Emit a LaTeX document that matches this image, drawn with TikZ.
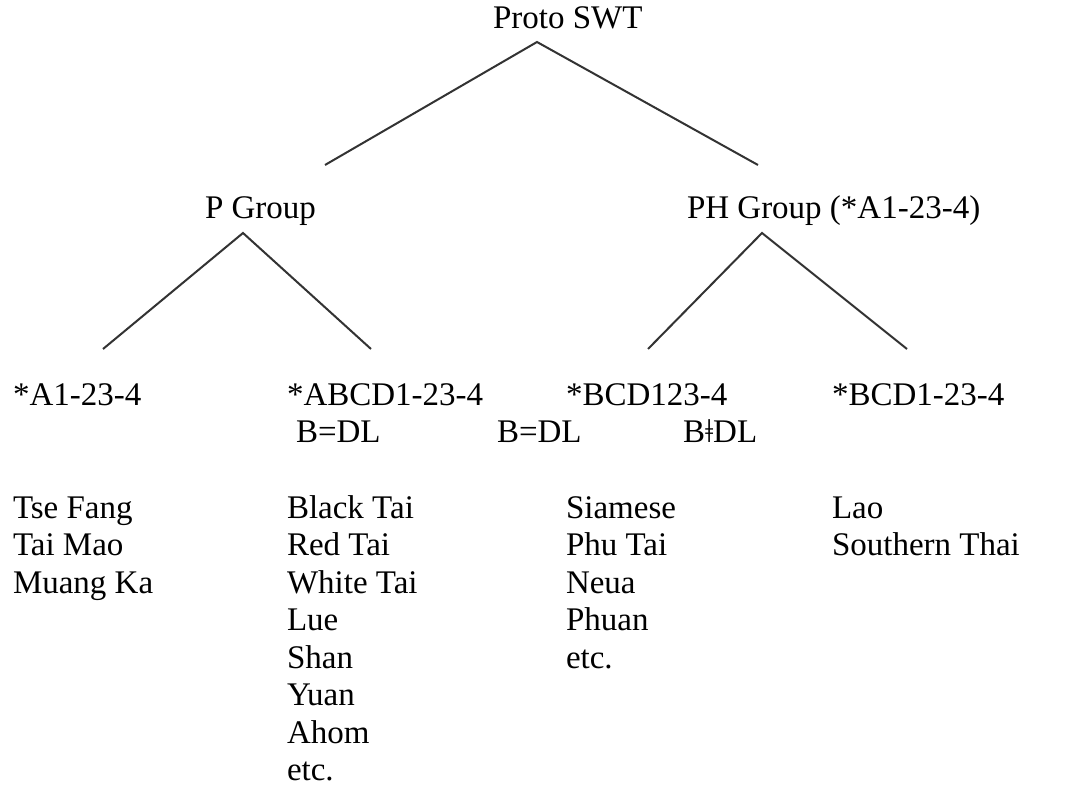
\documentclass[tikz,border=0pt]{standalone}
\usepackage{fontspec}
\setmainfont{Liberation Serif}
\begin{document}
\begin{tikzpicture}[x=1pt,y=-1pt,
  lbl/.style={anchor=base west,inner sep=0pt,outer sep=0pt,font=\fontsize{33}{37.5}\selectfont},
  branch/.style={line width=2pt,draw=black!80,line cap=butt}]
\useasboundingbox (0,0) rectangle (1076,786);
% level 0
\node[lbl] (root) at (493,29) {Proto SWT};
% level 1
\node[lbl] (pg) at (205,219) {P Group};
\node[lbl] (phg) at (687,219) {PH Group (*A1-23-4)};
% level 2
\node[lbl] (a) at (13,405) {*A1-23-4};
\node[lbl] (abcd) at (287,405) {*ABCD1-23-4};
\node[lbl] (bcd123) at (566,405) {*BCD123-4};
\node[lbl] (bcd1) at (832,405) {*BCD1-23-4};
\node[lbl] (eq1) at (296,442) {B=DL};
\node[lbl] (eq2) at (497,442) {B=DL};
\node[lbl] (neq) at (683,442) {BǂDL};
% lists
\foreach \t [count=\i from 0] in {Tse Fang,Tai Mao,Muang Ka}
  \node[lbl] (la\i) at (13,518+37.5*\i) {\t};
\foreach \t [count=\i from 0] in {Black Tai,Red Tai,White Tai,Lue,Shan,Yuan,Ahom,etc.}
  \node[lbl] (lb\i) at (287,518+37.5*\i) {\t};
\foreach \t [count=\i from 0] in {Siamese,Phu Tai,Neua,Phuan,etc.}
  \node[lbl] (lc\i) at (566,518+37.5*\i) {\t};
\foreach \t [count=\i from 0] in {Lao,Southern Thai}
  \node[lbl] (ld\i) at (832,518+37.5*\i) {\t};
% branch points
\coordinate (rootApex) at (537,42);
\coordinate (pgTop) at (325,165);
\coordinate (phgTop) at (758,165);
\coordinate (pgApex) at (243,233);
\coordinate (aTop) at (103,349);
\coordinate (abcdTop) at (371,349);
\coordinate (phgApex) at (762,233);
\coordinate (bcd123Top) at (648,349);
\coordinate (bcd1Top) at (907,349);
\draw[branch] (pgTop) -- (rootApex) -- (phgTop);
\draw[branch] (aTop) -- (pgApex) -- (abcdTop);
\draw[branch] (bcd123Top) -- (phgApex) -- (bcd1Top);
\end{tikzpicture}
\end{document}
